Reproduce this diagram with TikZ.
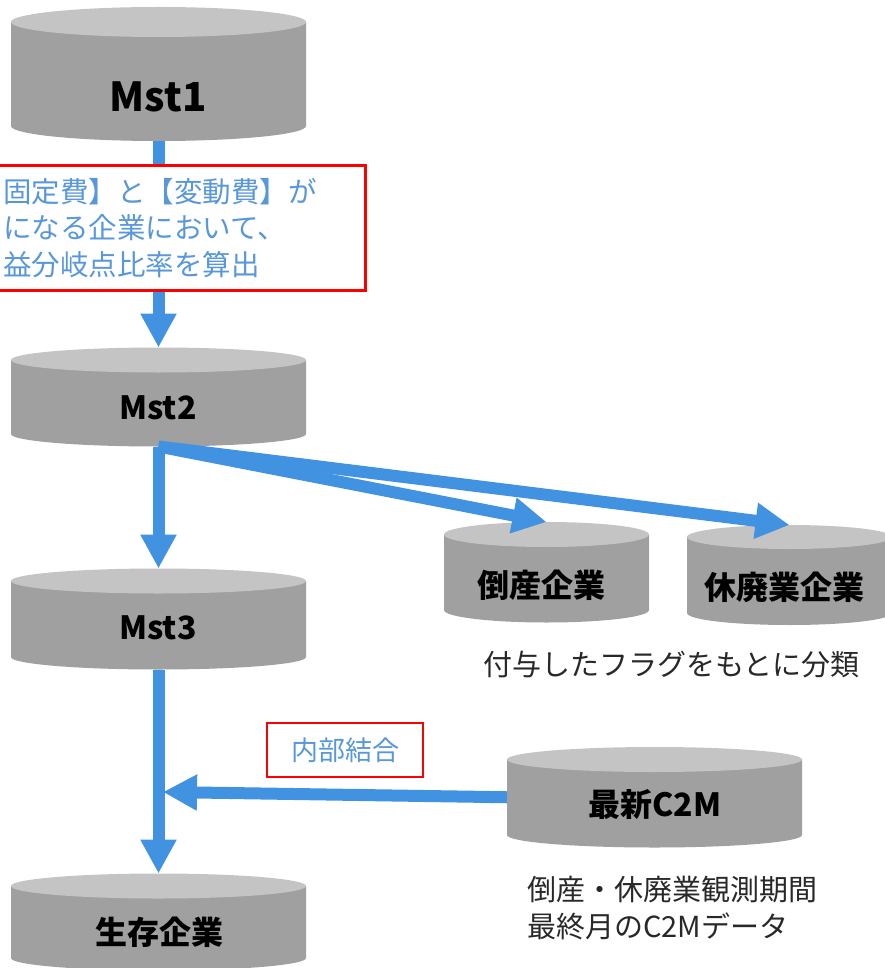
\documentclass[tikz,border=0pt]{standalone}
\usepackage{fontspec}
\setmainfont{Noto Sans CJK JP}
\usetikzlibrary{arrows.meta}
\definecolor{cyltopc}{RGB}{196,196,196}
\definecolor{cylbodyc}{RGB}{160,160,160}
\definecolor{flowc}{RGB}{66,146,226}
\definecolor{notec}{RGB}{88,152,218}
\definecolor{redc}{RGB}{255,0,0}
\definecolor{plainc}{RGB}{40,40,40}
\newcommand{\dbcyl}[6]{%
  \pgfmathsetmacro\cylcx{(#2+#3)/2}%
  \pgfmathsetmacro\cylrx{(#3-#2)/2}%
  \pgfmathsetmacro\cylcy{(#4+#5)/2}%
  \pgfmathsetmacro\cylh{#5-#4+2*#6}%
  \pgfmathsetmacro\cylw{#3-#2}%
  \fill[cylbodyc] (#2,#4) -- (#2,#5) arc[start angle=180,end angle=0,x radius=\cylrx,y radius=#6] -- (#3,#4) -- cycle;
  \fill[cyltopc] (\cylcx,#4) ellipse[x radius=\cylrx,y radius=#6];
  \node[cylframe,minimum width=\cylw,minimum height=\cylh] (#1) at (\cylcx,\cylcy) {};
}
\tikzset{
  cylframe/.style={draw=none,inner sep=0pt,outer sep=0pt,rectangle},
  cyllabel/.style={font=\fontsize{32}{38}\selectfont\bfseries,text=black,inner sep=0pt},
  flow/.style={draw=flowc,line width=12pt,-{Triangle[width=34pt,length=34pt]}},
  redbox/.style={draw=redc,fill=white,line width=2.8pt},
  bluetext/.style={text=notec},
  plaintext/.style={text=plainc,font=\fontsize{29}{37}\selectfont,inner sep=0pt}
}
\begin{document}
\begin{tikzpicture}[x=1pt,y=-1pt]
\useasboundingbox (0,0) rectangle (885,968);
% cylinders
\dbcyl{m1}{11}{306}{22}{126}{15}
\dbcyl{m2}{11}{306}{360}{434}{12.5}
\dbcyl{m3}{11}{306}{581}{657}{12.5}
\dbcyl{sz}{11}{306}{886}{958}{12.5}
\dbcyl{tosan}{444}{649}{534.5}{610}{12.5}
\dbcyl{kyu}{687}{892}{537}{613}{12}
\dbcyl{c2m}{507}{802}{759.5}{835}{12.5}
% labels
\node[cyllabel,font=\fontsize{40}{46}\selectfont\bfseries] (m1t) at (158,97) {Mst1};
\node[cyllabel] (m2t) at (158,408) {Mst2};
\node[cyllabel] (m3t) at (158,628) {Mst3};
\node[cyllabel] (szt) at (159,932) {生存企業};
\node[cyllabel] (tosant) at (541,585) {倒産企業};
\node[cyllabel] (kyut) at (784,587) {休廃業企業};
\node[cyllabel] (c2mt) at (655,805) {最新C2M};
% connectors
\draw[flow] (m1.south) -- (m2.north);
\draw[flow] (m2.south) -- (m3.north);
\draw[flow] (m2.south) -- (tosan.north);
\draw[flow] (m2.south) -- (kyu.north);
\draw[flow] (m3.south) -- (sz.north);
\coordinate (join) at (163,792);
\draw[flow] (c2m.west) -- (join);
% boxes
\node[redbox,bluetext,anchor=north west,align=left,text width=355pt,inner xsep=7pt,minimum height=125pt,
      font=\fontsize{28.5}{36.5}\selectfont] (cond) at (-5,164)
  {固定費】と【変動費】が\\になる企業において、\\益分岐点比率を算出};
\node[redbox,bluetext,minimum width=156pt,minimum height=54pt,inner sep=0pt,
      font=\fontsize{27}{32}\selectfont] (inner) at (345,750) {内部結合};
% notes
\node[plaintext,anchor=west] (flagnote) at (483,665) {付与したフラグをもとに分類};
\node[plaintext,anchor=west,align=left] (c2mnote) at (527,908.5) {倒産・休廃業観測期間\\最終月のC2Mデータ};
\end{tikzpicture}
\end{document}
